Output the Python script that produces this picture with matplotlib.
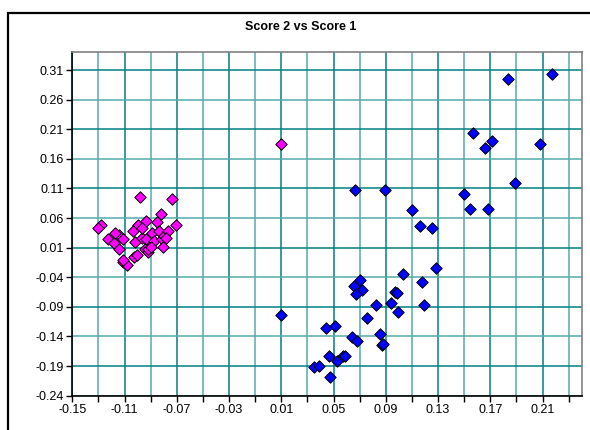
import numpy as np
import matplotlib
matplotlib.use('Agg')
import matplotlib.pyplot as plt
from matplotlib.patches import Rectangle

# score 1 / score 2 for each group
blue_x = [0.217, 0.1835, 0.1567, 0.1712, 0.1661, 0.2082, 0.189, 0.150, 0.1544, 0.1686,
          0.1255, 0.116, 0.0665, 0.0893, 0.1102, 0.1283, 0.1035, 0.1178, 0.0704, 0.066,
          0.0717, 0.0673, 0.0972, 0.0985, 0.0941, 0.0824, 0.1196, 0.0995, 0.0755, 0.0096,
          0.0443, 0.0512, 0.0645, 0.0683, 0.0857, 0.087, 0.0882, 0.0468, 0.0525, 0.0571,
          0.0589, 0.0351, 0.0387, 0.0474]
blue_y = [0.304, 0.295, 0.204, 0.191, 0.179, 0.185, 0.120, 0.101, 0.075, 0.075,
          0.044, 0.046, 0.108, 0.108, 0.073, -0.025, -0.035, -0.048, -0.045, -0.055,
          -0.061, -0.069, -0.065, -0.066, -0.084, -0.087, -0.086, -0.099, -0.109, -0.103,
          -0.125, -0.122, -0.141, -0.148, -0.136, -0.155, -0.152, -0.173, -0.181, -0.173,
          -0.173, -0.191, -0.189, -0.208]

pink_x = [0.0096, -0.0979, -0.0739, -0.1278, -0.130, -0.0706, -0.0823, -0.0851, -0.0936,
          -0.0997, -0.1229, -0.118, -0.1142, -0.1145, -0.1109, -0.1037, -0.1017, -0.0968,
          -0.0936, -0.0892, -0.0877, -0.0838, -0.0815, -0.0795, -0.0769, -0.0782, -0.0803,
          -0.0943, -0.0918, -0.0922, -0.1025, -0.1109, -0.1083, -0.1002, -0.0966, -0.090,
          -0.117, -0.1114]
pink_y = [0.185, 0.095, 0.092, 0.048, 0.043, 0.049, 0.067, 0.054, 0.055,
          0.049, 0.024, 0.018, 0.032, 0.008, 0.024, 0.038, 0.019, 0.026,
          0.025, 0.035, 0.022, 0.039, 0.025, 0.030, 0.038, 0.027, 0.011,
          0.007, 0.002, 0.008, -0.005, -0.014, -0.020, -0.002, 0.043, 0.011,
          0.035, -0.011]

x_ticks = np.round(np.arange(-0.15, 0.2401, 0.02), 2)
y_ticks = np.round(np.arange(-0.24, 0.3101, 0.05), 2)

plt.rcParams['font.family'] = ['Liberation Sans', 'DejaVu Sans']

fig = plt.figure(figsize=(5.9, 4.3), dpi=100)
ax = fig.add_axes([72.3 / 590, 1 - 395.7 / 430, (581.7 - 72.3) / 590, (395.7 - 52.3) / 430])

# outer chart frame (runs off the right and bottom edge)
fig.patches.append(Rectangle((8 / 590, -0.05), 1.1, 1 - 13 / 430 + 0.05,
                             transform=fig.transFigure, fill=False,
                             edgecolor='black', linewidth=1.6))

for i, xv in enumerate(x_ticks):
    ax.axvline(xv, color='#008080' if i % 2 == 0 else '#55aaaa', lw=1.1, zorder=0)
for i, yv in enumerate(y_ticks):
    ax.axhline(yv, color='#008080' if i % 2 == 1 else '#55aaaa', lw=1.1, zorder=0)

ax.scatter(blue_x, blue_y, marker='D', s=34, color='#0000ff', edgecolors='black',
           linewidths=0.7, zorder=3)
ax.scatter(pink_x, pink_y, marker='D', s=34, color='#ff00ff', edgecolors='black',
           linewidths=0.7, zorder=3)

ax.set_xlim(-0.15, 0.24)
ax.set_ylim(-0.24, 0.34)
ax.set_xticks(x_ticks)
ax.set_xticklabels(['%.2f' % v if i % 2 == 0 else '' for i, v in enumerate(x_ticks)])
ax.set_yticks(y_ticks)
ax.set_yticklabels(['%.2f' % v for v in y_ticks])
ax.tick_params(direction='out', length=4, width=1, labelsize=9, pad=2)

ax.spines['left'].set_color('black')
ax.spines['bottom'].set_color('black')
ax.spines['top'].set_color('#808080')
ax.spines['right'].set_color('#808080')
for s in ax.spines.values():
    s.set_linewidth(1.2)

fig.text(301 / 590, 1 - 27 / 430, 'Score 2 vs Score 1', ha='center', va='center',
         fontsize=9, fontweight='bold')

fig.savefig('out.png', dpi=100)
